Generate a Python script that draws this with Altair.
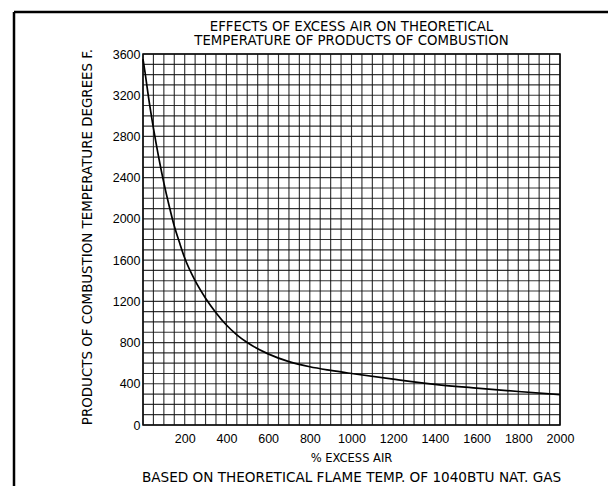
import altair as alt
import pandas as pd

# Curve
excess_air = [0, 10, 25, 50, 75, 100, 125, 150, 175, 200, 250, 300, 350, 400, 450,
              500, 600, 700, 800, 900, 1000, 1200, 1400, 1600, 1800, 2000]
temperature = [3550, 3420, 3200, 2880, 2600, 2350, 2130, 1930, 1770, 1620, 1400, 1230,
               1090, 970, 875, 800, 690, 615, 565, 530, 500, 445, 395, 358, 325, 295]

x_ticks = [200, 400, 600, 800, 1000, 1200, 1400, 1600, 1800, 2000]
y_ticks = [0, 400, 800, 1200, 1600, 2000, 2400, 2800, 3200, 3600]
grid_x = list(range(0, 2001, 50))
grid_y = list(range(0, 3601, 100))

title_lines = ["EFFECTS OF EXCESS AIR ON THEORETICAL",
               "TEMPERATURE OF PRODUCTS OF COMBUSTION"]
x_title = ["% EXCESS AIR"]
y_title = ["PRODUCTS OF COMBUSTION TEMPERATURE DEGREES F."]
footnote = ["BASED ON THEORETICAL FLAME TEMP. OF 1040BTU NAT. GAS"]

FONT = "Liberation Sans"
TFONT = "DejaVu Sans"
W, H = 417, 371

xs = alt.Scale(domain=[0, 2000], nice=False)
ys = alt.Scale(domain=[0, 3600], nice=False)

curve_df = pd.DataFrame({"x": excess_air, "y": temperature})
gx_df = pd.DataFrame({"x": grid_x})
gy_df = pd.DataFrame({"y": grid_y})

base = alt.Chart(curve_df).mark_line(color="black", strokeWidth=1.7, interpolate="monotone").encode(
    x=alt.X("x:Q", scale=xs,
            axis=alt.Axis(values=x_ticks, title=None, grid=False, domain=False, ticks=False,
                          format="d", labelOverlap=False, labelFlush=False,
                          labelPadding=7, labelFontSize=12.5, labelFont=FONT, labelColor="black")),
    y=alt.Y("y:Q", scale=ys,
            axis=alt.Axis(values=y_ticks, title=None, grid=False, domain=False, ticks=False,
                          format="d", labelOverlap=False, labelFlush=False,
                          labelPadding=3, labelFontSize=12.5, labelFont=FONT, labelColor="black")),
)

vgrid = alt.Chart(gx_df).mark_rule(color="#111", strokeWidth=1.15, opacity=0.85).encode(
    x=alt.X("x:Q", scale=xs))
hgrid = alt.Chart(gy_df).mark_rule(color="#111", strokeWidth=1.15, opacity=0.85).encode(
    y=alt.Y("y:Q", scale=ys))

def text_layer(lines, xpos, ypos, size, angle=0):
    df = pd.DataFrame({"t": lines})
    return alt.Chart(df).mark_text(font=TFONT, fontSize=size, color="black", align="center",
                                   baseline="middle", angle=angle).encode(
        text="t:N", x=alt.value(xpos), y=alt.value(ypos))

foot = text_layer(footnote, W / 2, 424, 13.6)
xlab = text_layer(x_title, W / 2, 405, 11.5)
ylab = text_layer(y_title, -55, 183, 13.4, angle=270)
title1 = text_layer(title_lines[:1], W / 2, -27.5, 13.3)
title2 = text_layer(title_lines[1:], W / 2, -13, 13.3)

frame_df = pd.DataFrame({"k": [0]})
frame_left = alt.Chart(frame_df).mark_rule(color="black", strokeWidth=2.5).encode(
    x=alt.value(-129), y=alt.value(-42), y2=alt.value(432))
frame_top = alt.Chart(frame_df).mark_rule(color="black", strokeWidth=2.5).encode(
    x=alt.value(-129), x2=alt.value(473), y=alt.value(-42))
frame_right = alt.Chart(frame_df).mark_rule(color="black", strokeWidth=1.5).encode(
    x=alt.value(469), y=alt.value(-42), y2=alt.value(390))

chart = alt.layer(vgrid, hgrid, base, foot, xlab, ylab, title1, title2,
                  frame_left, frame_top, frame_right).properties(
    width=W, height=H,
    autosize=alt.AutoSizeParams(type="none"),
    padding={"left": 135, "top": 46, "right": 48, "bottom": 70},
    background="white",
).configure_view(stroke="black", strokeWidth=1.5)

chart.save("out.html", embed_options={"renderer": "svg", "actions": False})
